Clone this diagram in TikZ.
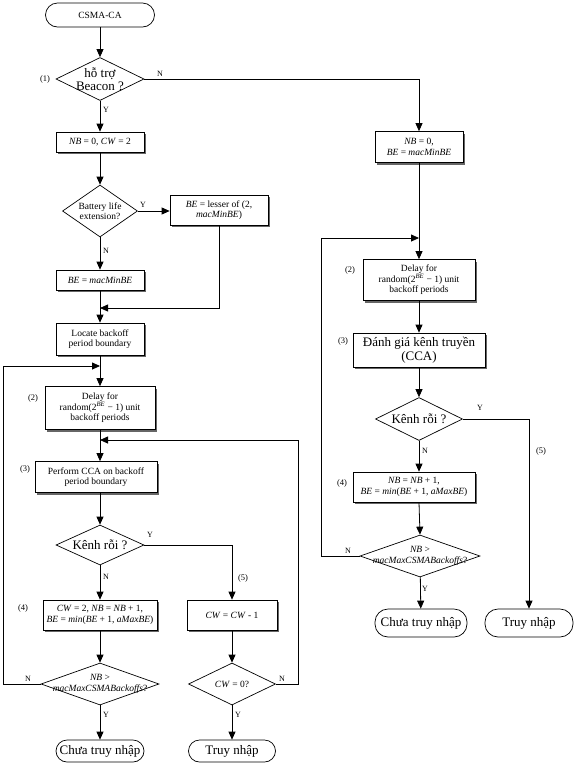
\documentclass[tikz,border=0pt]{standalone}
\usepackage{fontspec}
\setmainfont{Liberation Serif}
\usetikzlibrary{shapes.geometric,shadows,arrows.meta}
\newlength{\du}
\setlength{\du}{1pt}
\newcommand{\smallfnt}{\fontsize{9.5}{10.5}\selectfont}
\newcommand{\bigfnt}{\fontsize{13}{14}\selectfont}
\tikzset{
  flowline/.style={line width=0.8pt, draw=black},
  flowarrow/.style={flowline, -{Triangle[width=7pt,length=8pt]}},
  procbox/.style={draw, fill=white, line width=0.7pt, align=center, inner sep=1pt,
    font=\smallfnt, drop shadow={shadow xshift=2pt, shadow yshift=-2pt, fill=black!60, opacity=1}},
  decision/.style={draw, fill=white, diamond, inner sep=0pt, line width=0.7pt},
  dtext/.style={align=center, font=\smallfnt, inner sep=0pt},
  terminal/.style={draw, fill=white, rounded corners=11pt, line width=0.7pt,
    align=center, inner sep=1pt, font=\bigfnt},
  flag/.style={font=\fontsize{8}{9}\selectfont, inner sep=1pt},
  stepno/.style={font=\fontsize{8.5}{9}\selectfont, inner sep=1pt},
}

\begin{document}
\begin{tikzpicture}[x=\du, y=-\du]
\useasboundingbox (0,0) rectangle (575,766);
\fill[white] (0,0) rectangle (575,766);
% left column
\node[terminal, minimum width=109\du, minimum height=24\du, rounded corners=12pt, font=\smallfnt] (csma) at (100,15) {CSMA-CA};
\node[decision, minimum width=88\du, minimum height=43\du, label={[dtext, font=\bigfnt]center:hỗ trợ\\[-1pt]Beacon ?}] (beacon) at (100,79) {};
\node[procbox, minimum width=88\du, minimum height=20\du] (nbcw) at (100,142) {\textit{NB} = 0, \textit{CW} = 2};
\node[decision, minimum width=75\du, minimum height=52\du, label={[dtext]center:Battery life\\extension?}] (battery) at (100,211) {};
\node[procbox, minimum width=98\du, minimum height=30\du] (belesser) at (219,210) {\textit{BE} = lesser of (2,\\\textit{macMinBE})};
\node[procbox, minimum width=88\du, minimum height=20\du] (bemin) at (100,280) {\textit{BE} = \textit{macMinBE}};
\node[procbox, minimum width=88\du, minimum height=32\du] (locate) at (100,339) {Locate backoff\\period boundary};
\node[procbox, minimum width=110\du, minimum height=43\du] (delayL) at (100,408) {Delay for\\random(2\textsuperscript{\textit{BE}} − 1) unit\\backoff periods};
\node[procbox, minimum width=122\du, minimum height=31\du] (ccaL) at (96,477) {Perform CCA on backoff\\period boundary};
\node[decision, minimum width=88\du, minimum height=40\du, label={[dtext, font=\bigfnt]center:Kênh rỗi ?}] (idleL) at (100,545) {};
\node[procbox, minimum width=114\du, minimum height=30\du] (incL) at (100,615) {\textit{CW} = 2, \textit{NB} = \textit{NB} + 1,\\\textit{BE} = \textit{min}(\textit{BE} + 1, \textit{aMaxBE})};
\node[procbox, minimum width=90\du, minimum height=30\du] (cwdec) at (232,615) {\textit{CW} = \textit{CW} - 1};
\node[decision, minimum width=118\du, minimum height=42\du, label={[dtext]center:\textit{NB} >\\\textit{macMaxCSMABackoffs}?}] (nbmaxL) at (100,684) {};
\node[decision, minimum width=87\du, minimum height=42\du, label={[dtext]center:\textit{CW} = 0?}] (cwzero) at (232,684) {};
\node[terminal, minimum width=88\du, minimum height=22\du] (failL) at (100,751) {Chưa truy nhập};
\node[terminal, minimum width=87\du, minimum height=22\du] (okL) at (232,751) {Truy nhập};
% right column
\node[procbox, minimum width=88\du, minimum height=31\du] (nbbeR) at (419,147) {\textit{NB} = 0,\\\textit{BE} = \textit{macMinBE}};
\node[procbox, minimum width=112\du, minimum height=41\du] (delayR) at (419,280) {Delay for\\random(2\textsuperscript{\textit{BE}} − 1) unit\\backoff periods};
\node[procbox, minimum width=132\du, minimum height=34\du, font=\bigfnt] (ccaR) at (419,350) {Đánh giá kênh truyền\\(CCA)};
\node[decision, minimum width=87\du, minimum height=43\du, label={[dtext, font=\bigfnt]center:Kênh rỗi ?}] (idleR) at (419,419) {};
\node[procbox, minimum width=122\du, minimum height=30\du] (incR) at (414,487) {\textit{NB} = \textit{NB} + 1,\\\textit{BE} = \textit{min}(\textit{BE} + 1, \textit{aMaxBE})};
\node[decision, minimum width=120\du, minimum height=42\du, label={[dtext]center:\textit{NB} >\\\textit{macMaxCSMABackoffs}?}] (nbmaxR) at (420,556) {};
\node[terminal, minimum width=92\du, minimum height=28\du, rounded corners=13pt] (failR) at (421,623) {Chưa truy nhập};
\node[terminal, minimum width=88\du, minimum height=28\du, rounded corners=13pt] (okR) at (529,623) {Truy nhập};
% join points of the loops
\coordinate (joinA) at (100,366);
\coordinate (loopA) at (3,366);
\coordinate (joinB) at (100,440);
\coordinate (loopB) at (298,440);
\coordinate (joinC) at (419,238);
\coordinate (loopC) at (321,238);
\coordinate (joinD) at (100,308);
% connectors
\draw[flowarrow] (csma) -- (beacon);
\draw[flowarrow] (beacon) -- (nbcw);
\draw[flowarrow] (beacon.east) -| (nbbeR.north);
\draw[flowarrow] (nbcw) -- (battery);
\draw[flowarrow] (battery.east) -- (belesser.west |- battery.east);
\draw[flowarrow] (battery) -- (bemin);
\draw[flowarrow] (belesser.south) |- (joinD);
\draw[flowarrow] (bemin) -- (locate);
\draw[flowarrow] (locate) -- (delayL);
\draw[flowarrow] (loopA) -- (joinA);
\draw[flowline] (nbmaxL.west) -| (loopA);
\draw[flowarrow] (delayL.south) -- (delayL.south |- ccaL.north);
\draw[flowarrow] (loopB) -- (joinB);
\draw[flowline] (cwzero.east) -| (loopB);
\draw[flowarrow] (delayL.south |- ccaL.south) -- (idleL.north);
\draw[flowarrow] (idleL) -- (incL);
\draw[flowarrow] (idleL.east) -| (cwdec.north);
\draw[flowarrow] (incL) -- (nbmaxL);
\draw[flowarrow] (cwdec) -- (cwzero);
\draw[flowarrow] (nbmaxL) -- (failL);
\draw[flowarrow] (cwzero) -- (okL);
\draw[flowarrow] (nbbeR) -- (delayR);
\draw[flowarrow] (loopC) -- (joinC);
\draw[flowline] (nbmaxR.west) -| (loopC);
\draw[flowarrow] (delayR) -- (ccaR);
\draw[flowarrow] (ccaR) -- (idleR);
\draw[flowarrow] (idleR.south) -- (idleR.south |- incR.north);
\draw[flowarrow] (idleR.east) -| (okR.north);
\draw[flowarrow] (idleR.south |- incR.south) -- (nbmaxR.north);
\draw[flowarrow] (nbmaxR) -- (failR);
% labels
\node[stepno] (no1) at (45,79) {(1)};
\node[flag] (beaconN) at (160,74) {N};
\node[flag] (beaconY) at (106,110) {Y};
\node[flag] (batteryY) at (143,205) {Y};
\node[flag] (batteryN) at (106,251) {N};
\node[stepno] (no2L) at (33,398) {(2)};
\node[stepno] (no3L) at (25,469) {(3)};
\node[flag] (idleLY) at (150,535) {Y};
\node[flag] (idleLN) at (106,577) {N};
\node[stepno] (no5L) at (243,578) {(5)};
\node[stepno] (no4L) at (23,608) {(4)};
\node[flag] (nbmaxLN) at (28,679) {N};
\node[flag] (nbmaxLY) at (106,715) {Y};
\node[flag] (cwzeroN) at (282,679) {N};
\node[flag] (cwzeroY) at (238,715) {Y};
\node[stepno] (no2R) at (350,270) {(2)};
\node[stepno] (no3R) at (343,341) {(3)};
\node[flag] (idleRY) at (480,408) {Y};
\node[flag] (idleRN) at (425,451) {N};
\node[stepno] (no5R) at (541,451) {(5)};
\node[stepno] (no4R) at (342,483) {(4)};
\node[flag] (nbmaxRN) at (348,551) {N};
\node[flag] (nbmaxRY) at (425,589) {Y};
\end{tikzpicture}
\end{document}
